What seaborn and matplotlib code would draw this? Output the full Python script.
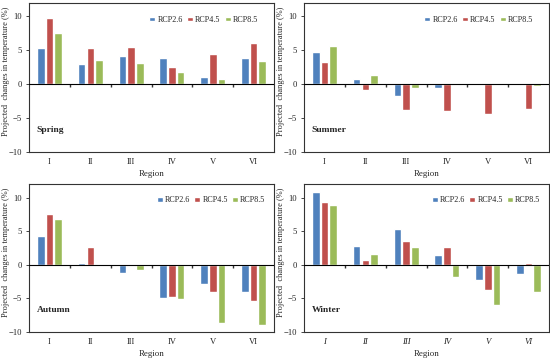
import matplotlib
matplotlib.use("Agg")
import matplotlib.pyplot as plt
import pandas as pd
import seaborn as sns

REGIONS = ["I", "II", "III", "IV", "V", "VI"]
SCENARIOS = ["RCP2.6", "RCP4.5", "RCP8.5"]
COLORS = {"RCP2.6": "#4F81BD", "RCP4.5": "#C0504D", "RCP8.5": "#9BBB59"}

spring = {
    "RCP2.6": [5.3, 3.0, 4.2, 3.8, 1.0, 3.8],
    "RCP4.5": [9.7, 5.3, 5.5, 2.5, 4.5, 6.1],
    "RCP8.5": [7.5, 3.5, 3.2, 1.8, 0.7, 3.4],
}
summer = {
    "RCP2.6": [4.7, 0.8, -1.7, -0.6, 0.0, 0.1],
    "RCP4.5": [3.3, -0.9, -3.8, -4.0, -4.4, -3.7],
    "RCP8.5": [5.6, 1.4, -0.6, -0.1, 0.0, -0.3],
}
autumn = {
    "RCP2.6": [4.3, 0.3, -1.2, -4.9, -2.8, -4.0],
    "RCP4.5": [7.6, 2.6, -0.1, -4.8, -4.0, -5.4],
    "RCP8.5": [6.8, -0.1, -0.7, -5.1, -8.6, -8.9],
}
winter = {
    "RCP2.6": [10.9, 2.8, 5.4, 1.5, -2.3, -1.4],
    "RCP4.5": [9.3, 0.7, 3.6, 2.6, -3.8, 0.3],
    "RCP8.5": [8.9, 1.6, 2.6, -1.8, -5.9, -4.1],
}

# name, data, axes rect, italic ticks, legend anchor
PANELS = [
    ("Spring", spring, [0.053, 0.579, 0.445, 0.413], False, (0.935, 0.886)),
    ("Summer", summer, [0.553, 0.579, 0.445, 0.413], False, (0.935, 0.886)),
    ("Autumn", autumn, [0.053, 0.080, 0.445, 0.41], False, (0.965, 0.892)),
    ("Winter", winter, [0.553, 0.080, 0.445, 0.41], True, (0.965, 0.892)),
]

YMIN, YMAX = -10, 12


def _long(season: dict) -> pd.DataFrame:
    rows = []
    for sc in SCENARIOS:
        for reg, v in zip(REGIONS, season[sc]):
            rows.append({"region": reg, "scenario": sc, "value": v})
    return pd.DataFrame(rows)


def main() -> None:
    sns.set_theme(style="white")
    plt.rcParams["font.family"] = ["Liberation Serif", "DejaVu Serif"]

    fig = plt.figure(figsize=(5.5, 3.61), dpi=100)
    for name, season, rect, italic, leg_anchor in PANELS:
        ax = fig.add_axes(rect)
        df = _long(season)
        sns.barplot(data=df, x="region", y="value", hue="scenario",
                    hue_order=SCENARIOS, order=REGIONS, palette=COLORS,
                    saturation=1, width=0.64, gap=0.12, ax=ax)
        ax.set_ylim(YMIN, YMAX)
        ax.set_xlim(-0.5, len(REGIONS) - 0.5)
        ax.set_yticks([-10, -5, 0, 5, 10])
        ax.axhline(0, color="black", lw=0.8, zorder=3)
        ax.tick_params(axis="y", labelsize=6.2, length=2.5, width=0.6,
                       direction="out", left=True, pad=2.5)
        ax.tick_params(axis="x", labelsize=6.2, length=0, pad=4.2)
        if italic:
            for lab in ax.get_xticklabels():
                lab.set_style("italic")
        for sp in ax.spines.values():
            sp.set_color("#333333")
            sp.set_linewidth(0.8)

        # category boundary marks on the zero line
        sec = ax.secondary_xaxis((0 - YMIN) / (YMAX - YMIN))
        sec.set_xticks([i + 0.5 for i in range(len(REGIONS) - 1)])
        sec.set_xticklabels([])
        sec.tick_params(length=2, width=1.0, direction="out", color="#333333")
        sec.spines["bottom"].set_visible(False)

        ax.set_xlabel("Region", fontsize=6.4, labelpad=3)
        ax.set_ylabel("Projected  changes in temperature (%)", fontsize=6)
        ax.yaxis.set_label_coords(-0.078, 0.54)
        ax.text(0.03, 0.15, name, transform=ax.transAxes, fontsize=6.8,
                fontweight="bold", va="center")
        ax.legend(loc="center right", ncol=3, frameon=False, fontsize=5.9,
                  handlelength=0.75, handleheight=0.5, handletextpad=0.25,
                  columnspacing=0.5, borderpad=0, borderaxespad=0,
                  bbox_to_anchor=leg_anchor)

    fig.savefig("out.png", dpi=100)


if __name__ == "__main__":
    main()
